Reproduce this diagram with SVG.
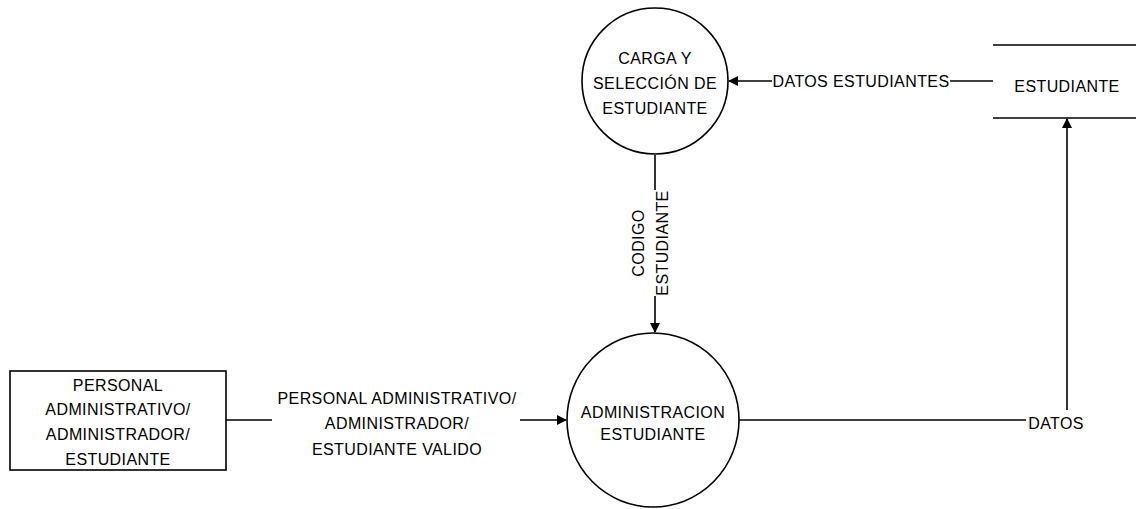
<svg xmlns="http://www.w3.org/2000/svg" width="1136" height="509" viewBox="0 0 1136 509">
<style>
text{font-family:"Liberation Sans",Arial,sans-serif;font-size:16px;fill:#000;text-anchor:middle;letter-spacing:0.4px}
.s{fill:none;stroke:#000;stroke-width:1.6}
.c{fill:#fff;stroke:#000;stroke-width:1.6}
</style>
<defs>
<marker id="ah" markerWidth="10" markerHeight="10" refX="9" refY="5" orient="auto" markerUnits="userSpaceOnUse">
<path d="M0,0 L10,5 L0,10 Z" fill="#000"/>
</marker>
</defs>
<g id="connectors">
<path class="s" d="M993,81 H950"/>
<path class="s" d="M772,81 H729" marker-end="url(#ah)"/>
<text x="861" y="87">DATOS ESTUDIANTES</text>
<path class="s" d="M655,155 V190"/>
<path class="s" d="M655,296 V332" marker-end="url(#ah)"/>
<text transform="translate(644,243) rotate(-90)">CODIGO</text>
<text transform="translate(668,243) rotate(-90)">ESTUDIANTE</text>
<path class="s" d="M226,420 H272"/>
<path class="s" d="M520,420 H566" marker-end="url(#ah)"/>
<text x="397" y="404">PERSONAL ADMINISTRATIVO/</text>
<text x="397" y="429">ADMINISTRADOR/</text>
<text x="397" y="455">ESTUDIANTE VALIDO</text>
<path class="s" d="M739,420 H1026"/>
<text x="1056" y="429">DATOS</text>
<path class="s" d="M1067,410 V119" marker-end="url(#ah)"/>
</g>
<g id="carga">
<circle class="c" cx="655" cy="81" r="73"/>
<text x="655" y="64">CARGA Y</text>
<text x="655" y="89">SELECCIÓN DE</text>
<text x="655" y="114">ESTUDIANTE</text>
</g>
<g id="estudiante-store">
<path class="s" d="M993,45 H1136 M993,118 H1136"/>
<text x="1067" y="92">ESTUDIANTE</text>
</g>
<g id="admin">
<ellipse class="c" cx="653" cy="420" rx="86" ry="87"/>
<text x="653" y="418">ADMINISTRACION</text>
<text x="653" y="440">ESTUDIANTE</text>
</g>
<g id="personal">
<rect class="c" x="10" y="371" width="216" height="99"/>
<text x="118" y="391">PERSONAL</text>
<text x="118" y="415">ADMINISTRATIVO/</text>
<text x="118" y="440">ADMINISTRADOR/</text>
<text x="118" y="465">ESTUDIANTE</text>
</g>
</svg>
